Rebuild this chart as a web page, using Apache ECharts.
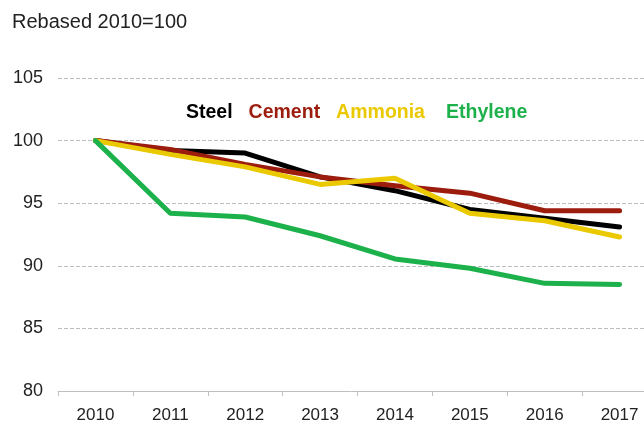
<!DOCTYPE html>
<html lang="en">
<head>
    <meta charset="UTF-8">
    <title>Rebased 2010=100</title>
    <style>
        html, body { margin: 0; padding: 0; background: #fff; }
        #main { width: 644px; height: 421px; }
    </style>
</head>
<body>
<div id="main"></div>
<script src="https://cdn.jsdelivr.net/npm/echarts@6/dist/echarts.min.js"></script>
<script>
    const myChart = echarts.init(document.getElementById('main'));

    // years on the x axis
    const years = ['2010', '2011', '2012', '2013', '2014', '2015', '2016', '2017'];

    // index values, 2010 = 100
    const steel    = [100, 99.2, 99.0, 97.1, 96.0, 94.5, 93.8, 93.1];
    const cement   = [100, 99.3, 98.1, 97.1, 96.4, 95.8, 94.4, 94.4];
    const ammonia  = [100, 98.9, 97.9, 96.5, 97.0, 94.2, 93.6, 92.3];
    const ethylene = [100, 94.2, 93.9, 92.4, 90.55, 89.8, 88.6, 88.5];

    const names  = ['Steel', 'Cement', 'Ammonia', 'Ethylene'];
    const colors = ['#000000', '#9c1c0e', '#ebc900', '#1db14b'];
    const values = [steel, cement, ammonia, ethylene];

    const font = '"Liberation Sans", Arial, sans-serif';

    const option = {
        animation: false,
        title: {
            text: 'Rebased 2010=100',
            left: 7,
            top: 7,
            textStyle: { fontFamily: font, fontSize: 20, fontWeight: 'normal', color: '#222' }
        },
        legend: {
            data: names.map((n, i) => ({
                name: n,
                textStyle: { color: colors[i], padding: n === 'Ethylene' ? [0, 0, 0, 5] : 0 }
            })),
            left: 176,
            top: 98,
            itemWidth: 0,
            itemHeight: 0,
            itemGap: 11,
            icon: 'rect',
            selectedMode: false,
            textStyle: { fontFamily: font, fontSize: 19.5, fontWeight: 'bold' }
        },
        grid: {
            left: 58,
            width: 599,
            top: 78,
            bottom: 30,
            containLabel: false,
            outerBoundsMode: 'none'
        },
        xAxis: {
            type: 'category',
            data: years,
            boundaryGap: true,
            axisLine: { lineStyle: { color: '#bfbfbf' } },
            axisTick: { show: true, length: 5, lineStyle: { color: '#bfbfbf' } },
            axisLabel: { fontFamily: font, fontSize: 17, color: '#222', margin: 16 }
        },
        yAxis: {
            type: 'value',
            min: 80,
            max: 105,
            interval: 5,
            axisLine: { show: false },
            axisTick: { show: false },
            axisLabel: { fontFamily: font, fontSize: 18, color: '#222', margin: 15 },
            splitLine: { lineStyle: { color: '#bdbdbd', type: 'dashed', width: 1 } }
        },
        series: names.map((n, i) => ({
            name: n,
            type: 'line',
            data: values[i],
            color: colors[i],
            symbol: 'none',
            lineStyle: { width: 5, color: colors[i], cap: 'round', join: 'round' }
        }))
    };

    myChart.setOption(option);
</script>
</body>
</html>
